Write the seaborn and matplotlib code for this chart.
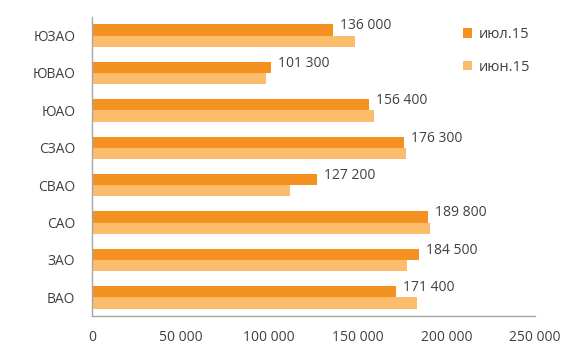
import numpy as np
import pandas as pd
import seaborn as sns
import matplotlib.pyplot as plt
from matplotlib.ticker import FuncFormatter, FixedLocator

districts = ["ЮЗАО", "ЮВАО", "ЮАО", "СЗАО", "СВАО", "САО", "ЗАО", "ВАО"]
jul15 = [136000, 101300, 156400, 176300, 127200, 189800, 184500, 171400]
jun15 = [148300, 98400, 159000, 177000, 112000, 190700, 178000, 183300]
series = ["июл.15", "июн.15"]
xticks = [0, 50000, 100000, 150000, 200000, 250000]

df = pd.concat([
    pd.DataFrame({"district": districts, "value": jul15, "month": series[0]}),
    pd.DataFrame({"district": districts, "value": jun15, "month": series[1]}),
], ignore_index=True)

sns.set_theme(style="white")
plt.rcParams["font.family"] = ["Open Sans", "DejaVu Sans"]

def fmt(v, pos=None):
    return f"{int(v):,}".replace(",", " ")

fig = plt.figure(figsize=(5.82, 3.52), dpi=100)
ax = fig.add_axes([0.158, 0.102, 0.761, 0.850])

sns.barplot(
    data=df, y="district", x="value", hue="month",
    order=districts, hue_order=series,
    palette=["#F39221", "#FBBD6C"],
    orient="h", width=0.6, gap=0, saturation=1,
    edgecolor="none", linewidth=0, ax=ax,
)

ax.set_xlim(0, 250000)
ax.set_ylim(len(districts) - 0.5, -0.5)
ax.xaxis.set_major_locator(FixedLocator(xticks))
ax.xaxis.set_major_formatter(FuncFormatter(fmt))
ax.set_xlabel("")
ax.set_ylabel("")

for s in ["top", "right"]:
    ax.spines[s].set_visible(False)
for s in ["left", "bottom"]:
    ax.spines[s].set_color("#A6A6A6")
    ax.spines[s].set_linewidth(1.0)

ax.tick_params(axis="x", colors="#A6A6A6", length=4, width=1, direction="out",
               labelcolor="#404040", labelsize=10, pad=6)
ax.tick_params(axis="y", which="major", length=0, labelcolor="#404040",
               labelsize=10, pad=12)
ax.set_yticks(np.arange(len(districts) + 1) - 0.5, minor=True)
ax.tick_params(axis="y", which="minor", length=4, width=1, color="#A6A6A6",
               direction="out")

# data labels for the July series
for bar, v in zip(ax.containers[0], jul15):
    ax.annotate(fmt(v), (bar.get_width(), bar.get_y() + bar.get_height() / 2),
                xytext=(5, 3), textcoords="offset points",
                ha="left", va="center", fontsize=10, color="#404040")

leg = ax.legend(loc="upper right", bbox_to_anchor=(1.02, 1.01), frameon=False,
                fontsize=10.5, handlelength=0.6, handleheight=0.6,
                handletextpad=0.5, labelspacing=1.2, labelcolor="#404040")

fig.savefig("out.png", dpi=100)
